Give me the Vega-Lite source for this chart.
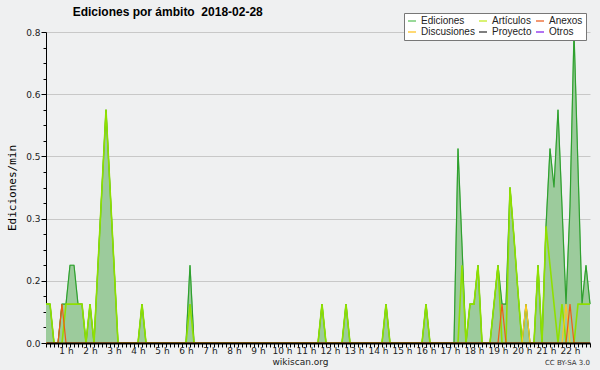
{
  "$schema": "https://vega.github.io/schema/vega-lite/v6.json",
  "width": 544,
  "height": 311,
  "autosize": {"type": "none"},
  "padding": {"left": 46, "top": 32, "right": 10, "bottom": 27},
  "background": "#eff0f1",
  "title": {"text": "Ediciones por ámbito\u00a0 2018-02-28", "anchor": "start", "dx": 66, "dy": 17, "offset": 11, "font": "Liberation Sans", "fontSize": 12, "fontWeight": "bold", "color": "#000"},
  "config": {"view": {"stroke": null}},
  "data": {
    "values": [
      {"min": 10, "Ediciones": 0.1, "Artículos": 0.1, "Anexos": 0, "Discusiones": 0},
      {"min": 20, "Ediciones": 0.1, "Artículos": 0.1, "Anexos": 0, "Discusiones": 0},
      {"min": 30, "Ediciones": 0, "Artículos": 0, "Anexos": 0, "Discusiones": 0},
      {"min": 40, "Ediciones": 0, "Artículos": 0, "Anexos": 0, "Discusiones": 0},
      {"min": 50, "Ediciones": 0.1, "Artículos": 0, "Anexos": 0.1, "Discusiones": 0},
      {"min": 60, "Ediciones": 0.1, "Artículos": 0.1, "Anexos": 0, "Discusiones": 0},
      {"min": 70, "Ediciones": 0.2, "Artículos": 0.1, "Anexos": 0, "Discusiones": 0},
      {"min": 80, "Ediciones": 0.2, "Artículos": 0.1, "Anexos": 0, "Discusiones": 0},
      {"min": 90, "Ediciones": 0.1, "Artículos": 0.1, "Anexos": 0, "Discusiones": 0},
      {"min": 100, "Ediciones": 0.1, "Artículos": 0.1, "Anexos": 0, "Discusiones": 0},
      {"min": 110, "Ediciones": 0, "Artículos": 0, "Anexos": 0, "Discusiones": 0},
      {"min": 120, "Ediciones": 0.1, "Artículos": 0.1, "Anexos": 0, "Discusiones": 0},
      {"min": 130, "Ediciones": 0, "Artículos": 0, "Anexos": 0, "Discusiones": 0},
      {"min": 140, "Ediciones": 0.2, "Artículos": 0.2, "Anexos": 0, "Discusiones": 0},
      {"min": 150, "Ediciones": 0.4, "Artículos": 0.4, "Anexos": 0, "Discusiones": 0},
      {"min": 160, "Ediciones": 0.6, "Artículos": 0.6, "Anexos": 0, "Discusiones": 0},
      {"min": 170, "Ediciones": 0.4, "Artículos": 0.4, "Anexos": 0, "Discusiones": 0},
      {"min": 180, "Ediciones": 0.2, "Artículos": 0.2, "Anexos": 0, "Discusiones": 0},
      {"min": 190, "Ediciones": 0, "Artículos": 0, "Anexos": 0, "Discusiones": 0},
      {"min": 200, "Ediciones": 0, "Artículos": 0, "Anexos": 0, "Discusiones": 0},
      {"min": 210, "Ediciones": 0, "Artículos": 0, "Anexos": 0, "Discusiones": 0},
      {"min": 220, "Ediciones": 0, "Artículos": 0, "Anexos": 0, "Discusiones": 0},
      {"min": 230, "Ediciones": 0, "Artículos": 0, "Anexos": 0, "Discusiones": 0},
      {"min": 240, "Ediciones": 0, "Artículos": 0, "Anexos": 0, "Discusiones": 0},
      {"min": 250, "Ediciones": 0.1, "Artículos": 0.1, "Anexos": 0, "Discusiones": 0},
      {"min": 260, "Ediciones": 0, "Artículos": 0, "Anexos": 0, "Discusiones": 0},
      {"min": 270, "Ediciones": 0, "Artículos": 0, "Anexos": 0, "Discusiones": 0},
      {"min": 280, "Ediciones": 0, "Artículos": 0, "Anexos": 0, "Discusiones": 0},
      {"min": 290, "Ediciones": 0, "Artículos": 0, "Anexos": 0, "Discusiones": 0},
      {"min": 300, "Ediciones": 0, "Artículos": 0, "Anexos": 0, "Discusiones": 0},
      {"min": 310, "Ediciones": 0, "Artículos": 0, "Anexos": 0, "Discusiones": 0},
      {"min": 320, "Ediciones": 0, "Artículos": 0, "Anexos": 0, "Discusiones": 0},
      {"min": 330, "Ediciones": 0, "Artículos": 0, "Anexos": 0, "Discusiones": 0},
      {"min": 340, "Ediciones": 0, "Artículos": 0, "Anexos": 0, "Discusiones": 0},
      {"min": 350, "Ediciones": 0, "Artículos": 0, "Anexos": 0, "Discusiones": 0},
      {"min": 360, "Ediciones": 0, "Artículos": 0, "Anexos": 0, "Discusiones": 0},
      {"min": 370, "Ediciones": 0.2, "Artículos": 0.1, "Anexos": 0, "Discusiones": 0},
      {"min": 380, "Ediciones": 0, "Artículos": 0, "Anexos": 0, "Discusiones": 0},
      {"min": 390, "Ediciones": 0, "Artículos": 0, "Anexos": 0, "Discusiones": 0},
      {"min": 400, "Ediciones": 0, "Artículos": 0, "Anexos": 0, "Discusiones": 0},
      {"min": 410, "Ediciones": 0, "Artículos": 0, "Anexos": 0, "Discusiones": 0},
      {"min": 420, "Ediciones": 0, "Artículos": 0, "Anexos": 0, "Discusiones": 0},
      {"min": 430, "Ediciones": 0, "Artículos": 0, "Anexos": 0, "Discusiones": 0},
      {"min": 440, "Ediciones": 0, "Artículos": 0, "Anexos": 0, "Discusiones": 0},
      {"min": 450, "Ediciones": 0, "Artículos": 0, "Anexos": 0, "Discusiones": 0},
      {"min": 460, "Ediciones": 0, "Artículos": 0, "Anexos": 0, "Discusiones": 0},
      {"min": 470, "Ediciones": 0, "Artículos": 0, "Anexos": 0, "Discusiones": 0},
      {"min": 480, "Ediciones": 0, "Artículos": 0, "Anexos": 0, "Discusiones": 0},
      {"min": 490, "Ediciones": 0, "Artículos": 0, "Anexos": 0, "Discusiones": 0},
      {"min": 500, "Ediciones": 0, "Artículos": 0, "Anexos": 0, "Discusiones": 0},
      {"min": 510, "Ediciones": 0, "Artículos": 0, "Anexos": 0, "Discusiones": 0},
      {"min": 520, "Ediciones": 0, "Artículos": 0, "Anexos": 0, "Discusiones": 0},
      {"min": 530, "Ediciones": 0, "Artículos": 0, "Anexos": 0, "Discusiones": 0},
      {"min": 540, "Ediciones": 0, "Artículos": 0, "Anexos": 0, "Discusiones": 0},
      {"min": 550, "Ediciones": 0, "Artículos": 0, "Anexos": 0, "Discusiones": 0},
      {"min": 560, "Ediciones": 0, "Artículos": 0, "Anexos": 0, "Discusiones": 0},
      {"min": 570, "Ediciones": 0, "Artículos": 0, "Anexos": 0, "Discusiones": 0},
      {"min": 580, "Ediciones": 0, "Artículos": 0, "Anexos": 0, "Discusiones": 0},
      {"min": 590, "Ediciones": 0, "Artículos": 0, "Anexos": 0, "Discusiones": 0},
      {"min": 600, "Ediciones": 0, "Artículos": 0, "Anexos": 0, "Discusiones": 0},
      {"min": 610, "Ediciones": 0, "Artículos": 0, "Anexos": 0, "Discusiones": 0},
      {"min": 620, "Ediciones": 0, "Artículos": 0, "Anexos": 0, "Discusiones": 0},
      {"min": 630, "Ediciones": 0, "Artículos": 0, "Anexos": 0, "Discusiones": 0},
      {"min": 640, "Ediciones": 0, "Artículos": 0, "Anexos": 0, "Discusiones": 0},
      {"min": 650, "Ediciones": 0, "Artículos": 0, "Anexos": 0, "Discusiones": 0},
      {"min": 660, "Ediciones": 0, "Artículos": 0, "Anexos": 0, "Discusiones": 0},
      {"min": 670, "Ediciones": 0, "Artículos": 0, "Anexos": 0, "Discusiones": 0},
      {"min": 680, "Ediciones": 0, "Artículos": 0, "Anexos": 0, "Discusiones": 0},
      {"min": 690, "Ediciones": 0, "Artículos": 0, "Anexos": 0, "Discusiones": 0},
      {"min": 700, "Ediciones": 0.1, "Artículos": 0.1, "Anexos": 0, "Discusiones": 0},
      {"min": 710, "Ediciones": 0, "Artículos": 0, "Anexos": 0, "Discusiones": 0},
      {"min": 720, "Ediciones": 0, "Artículos": 0, "Anexos": 0, "Discusiones": 0},
      {"min": 730, "Ediciones": 0, "Artículos": 0, "Anexos": 0, "Discusiones": 0},
      {"min": 740, "Ediciones": 0, "Artículos": 0, "Anexos": 0, "Discusiones": 0},
      {"min": 750, "Ediciones": 0, "Artículos": 0, "Anexos": 0, "Discusiones": 0},
      {"min": 760, "Ediciones": 0.1, "Artículos": 0.1, "Anexos": 0, "Discusiones": 0},
      {"min": 770, "Ediciones": 0, "Artículos": 0, "Anexos": 0, "Discusiones": 0},
      {"min": 780, "Ediciones": 0, "Artículos": 0, "Anexos": 0, "Discusiones": 0},
      {"min": 790, "Ediciones": 0, "Artículos": 0, "Anexos": 0, "Discusiones": 0},
      {"min": 800, "Ediciones": 0, "Artículos": 0, "Anexos": 0, "Discusiones": 0},
      {"min": 810, "Ediciones": 0, "Artículos": 0, "Anexos": 0, "Discusiones": 0},
      {"min": 820, "Ediciones": 0, "Artículos": 0, "Anexos": 0, "Discusiones": 0},
      {"min": 830, "Ediciones": 0, "Artículos": 0, "Anexos": 0, "Discusiones": 0},
      {"min": 840, "Ediciones": 0, "Artículos": 0, "Anexos": 0, "Discusiones": 0},
      {"min": 850, "Ediciones": 0, "Artículos": 0, "Anexos": 0, "Discusiones": 0},
      {"min": 860, "Ediciones": 0.1, "Artículos": 0.1, "Anexos": 0, "Discusiones": 0},
      {"min": 870, "Ediciones": 0, "Artículos": 0, "Anexos": 0, "Discusiones": 0},
      {"min": 880, "Ediciones": 0, "Artículos": 0, "Anexos": 0, "Discusiones": 0},
      {"min": 890, "Ediciones": 0, "Artículos": 0, "Anexos": 0, "Discusiones": 0},
      {"min": 900, "Ediciones": 0, "Artículos": 0, "Anexos": 0, "Discusiones": 0},
      {"min": 910, "Ediciones": 0, "Artículos": 0, "Anexos": 0, "Discusiones": 0},
      {"min": 920, "Ediciones": 0, "Artículos": 0, "Anexos": 0, "Discusiones": 0},
      {"min": 930, "Ediciones": 0, "Artículos": 0, "Anexos": 0, "Discusiones": 0},
      {"min": 940, "Ediciones": 0, "Artículos": 0, "Anexos": 0, "Discusiones": 0},
      {"min": 950, "Ediciones": 0, "Artículos": 0, "Anexos": 0, "Discusiones": 0},
      {"min": 960, "Ediciones": 0.1, "Artículos": 0.1, "Anexos": 0, "Discusiones": 0},
      {"min": 970, "Ediciones": 0, "Artículos": 0, "Anexos": 0, "Discusiones": 0},
      {"min": 980, "Ediciones": 0, "Artículos": 0, "Anexos": 0, "Discusiones": 0},
      {"min": 990, "Ediciones": 0, "Artículos": 0, "Anexos": 0, "Discusiones": 0},
      {"min": 1000, "Ediciones": 0, "Artículos": 0, "Anexos": 0, "Discusiones": 0},
      {"min": 1010, "Ediciones": 0, "Artículos": 0, "Anexos": 0, "Discusiones": 0},
      {"min": 1020, "Ediciones": 0, "Artículos": 0, "Anexos": 0, "Discusiones": 0},
      {"min": 1030, "Ediciones": 0, "Artículos": 0, "Anexos": 0, "Discusiones": 0},
      {"min": 1040, "Ediciones": 0.5, "Artículos": 0, "Anexos": 0, "Discusiones": 0},
      {"min": 1050, "Ediciones": 0.25, "Artículos": 0.2, "Anexos": 0, "Discusiones": 0},
      {"min": 1060, "Ediciones": 0, "Artículos": 0, "Anexos": 0, "Discusiones": 0},
      {"min": 1070, "Ediciones": 0.1, "Artículos": 0.1, "Anexos": 0, "Discusiones": 0},
      {"min": 1080, "Ediciones": 0.1, "Artículos": 0.1, "Anexos": 0, "Discusiones": 0},
      {"min": 1090, "Ediciones": 0.2, "Artículos": 0.2, "Anexos": 0, "Discusiones": 0},
      {"min": 1100, "Ediciones": 0, "Artículos": 0, "Anexos": 0, "Discusiones": 0},
      {"min": 1110, "Ediciones": 0, "Artículos": 0, "Anexos": 0, "Discusiones": 0},
      {"min": 1120, "Ediciones": 0, "Artículos": 0, "Anexos": 0, "Discusiones": 0},
      {"min": 1130, "Ediciones": 0.1, "Artículos": 0.1, "Anexos": 0, "Discusiones": 0},
      {"min": 1140, "Ediciones": 0.2, "Artículos": 0.2, "Anexos": 0, "Discusiones": 0},
      {"min": 1150, "Ediciones": 0.1, "Artículos": 0, "Anexos": 0.1, "Discusiones": 0},
      {"min": 1160, "Ediciones": 0.1, "Artículos": 0, "Anexos": 0, "Discusiones": 0},
      {"min": 1170, "Ediciones": 0.4, "Artículos": 0.4, "Anexos": 0, "Discusiones": 0},
      {"min": 1180, "Ediciones": 0.27, "Artículos": 0.27, "Anexos": 0, "Discusiones": 0},
      {"min": 1190, "Ediciones": 0.13, "Artículos": 0.13, "Anexos": 0, "Discusiones": 0},
      {"min": 1200, "Ediciones": 0, "Artículos": 0, "Anexos": 0, "Discusiones": 0},
      {"min": 1210, "Ediciones": 0.1, "Artículos": 0, "Anexos": 0, "Discusiones": 0.1},
      {"min": 1220, "Ediciones": 0, "Artículos": 0, "Anexos": 0, "Discusiones": 0},
      {"min": 1230, "Ediciones": 0, "Artículos": 0, "Anexos": 0, "Discusiones": 0},
      {"min": 1240, "Ediciones": 0.2, "Artículos": 0.2, "Anexos": 0, "Discusiones": 0},
      {"min": 1250, "Ediciones": 0, "Artículos": 0, "Anexos": 0, "Discusiones": 0},
      {"min": 1260, "Ediciones": 0.3, "Artículos": 0.3, "Anexos": 0, "Discusiones": 0},
      {"min": 1270, "Ediciones": 0.5, "Artículos": 0.2, "Anexos": 0, "Discusiones": 0},
      {"min": 1280, "Ediciones": 0.4, "Artículos": 0.1, "Anexos": 0, "Discusiones": 0},
      {"min": 1290, "Ediciones": 0.6, "Artículos": 0, "Anexos": 0, "Discusiones": 0},
      {"min": 1300, "Ediciones": 0.35, "Artículos": 0.1, "Anexos": 0, "Discusiones": 0},
      {"min": 1310, "Ediciones": 0.1, "Artículos": 0, "Anexos": 0, "Discusiones": 0.1},
      {"min": 1320, "Ediciones": 0.35, "Artículos": 0, "Anexos": 0.1, "Discusiones": 0},
      {"min": 1330, "Ediciones": 0.8, "Artículos": 0, "Anexos": 0, "Discusiones": 0},
      {"min": 1340, "Ediciones": 0.45, "Artículos": 0.1, "Anexos": 0, "Discusiones": 0},
      {"min": 1350, "Ediciones": 0.1, "Artículos": 0.1, "Anexos": 0, "Discusiones": 0},
      {"min": 1360, "Ediciones": 0.2, "Artículos": 0.1, "Anexos": 0, "Discusiones": 0},
      {"min": 1370, "Ediciones": 0.1, "Artículos": 0.1, "Anexos": 0, "Discusiones": 0}
    ]
  },
  "transform": [{"fold": ["Ediciones", "Artículos", "Anexos", "Discusiones"], "as": ["serie", "valor"]}],
  "encoding": {
    "x": {
      "field": "min",
      "type": "quantitative",
      "scale": {"domain": [10, 1370], "nice": false, "zero": false},
      "axis": {
        "title": "wikiscan.org",
        "tickCount": 137,
        "labelExpr": "datum.value % 60 == 0 ? (datum.value / 60) + ' h' : ''",
        "grid": false,
        "domainColor": "#000",
        "domainWidth": 2,
        "tickColor": "#000",
        "tickSize": 4,
        "labelFont": "DejaVu Sans",
        "labelFontSize": 9,
        "labelColor": "#222",
        "labelPadding": -1,
        "labelOverlap": false,
        "labelFlush": false,
        "titleFont": "DejaVu Sans",
        "titleFontSize": 9,
        "titleFontWeight": "normal",
        "titleColor": "#222",
        "titleX": 254,
        "titleY": 14,
        "titleAlign": "center",
        "titleBaseline": "top",
        "zindex": 1
      }
    },
    "y": {
      "field": "valor",
      "type": "quantitative",
      "scale": {"domain": [0, 0.8], "nice": false},
      "axis": {
        "title": "Ediciones/min",
        "values": [0, 0.04, 0.08, 0.12, 0.16, 0.2, 0.24, 0.28, 0.32, 0.36, 0.4, 0.44, 0.48, 0.52, 0.56, 0.6, 0.64, 0.68, 0.72, 0.76, 0.8],
        "labelExpr": "round(datum.value * 100) % 16 == 0 ? format(datum.value, '.1f') : ''",
        "gridColor": "#c8c8c8",
        "gridOpacity": {"condition": {"test": "round(datum.value * 100) % 16 == 0", "value": 1}, "value": 0},
        "tickSize": {"condition": {"test": "round(datum.value * 100) % 16 == 0", "value": 5}, "value": 3},
        "domainColor": "#000",
        "tickColor": "#000",
        "labelFont": "DejaVu Sans",
        "labelFontSize": 9,
        "labelColor": "#222",
        "labelPadding": 1,
        "labelOverlap": false,
        "labelFlush": false,
        "titleFont": "DejaVu Sans Mono",
        "titleFontSize": 11,
        "titleFontWeight": "normal",
        "titleColor": "#000",
        "titlePadding": 8
      }
    }
  },
  "layer": [
    {
      "mark": {"type": "line", "strokeWidth": 1},
      "encoding": {
        "color": {
          "field": "serie",
          "type": "nominal",
          "scale": {"domain": ["Ediciones", "Artículos", "Anexos", "Discusiones", "Proyecto", "Otros"], "range": ["#77cc77", "#ccee44", "#ee7744", "#ffcc44", "#555555", "#9944ee"]},
          "legend": {
            "title": null,
            "orient": "none",
            "legendX": 358,
            "legendY": -19,
            "columns": 3,
            "direction": "horizontal",
            "gridAlign": "each",
            "symbolType": "stroke",
            "symbolSize": 64,
            "symbolStrokeWidth": 1.5,
            "labelFont": "Liberation Sans",
            "labelFontSize": 10,
            "labelColor": "#222",
            "fillColor": "#ffffff",
            "strokeColor": "#777777",
            "padding": 3,
            "rowPadding": 1,
            "columnPadding": 1,
            "labelOffset": 4
          }
        }
      }
    },
    {
      "transform": [{"filter": "datum.serie == 'Ediciones'"}],
      "mark": {"type": "area", "color": "#9ccb9c", "opacity": 1}
    },
    {
      "transform": [{"filter": "datum.serie == 'Ediciones'"}],
      "mark": {"type": "line", "color": "#2fa02f", "strokeWidth": 1.2}
    },
    {
      "transform": [{"filter": "datum.serie == 'Artículos'"}],
      "mark": {"type": "line", "color": "#8fe000", "strokeWidth": 1.6}
    },
    {
      "transform": [{"filter": "datum.serie == 'Discusiones'"}],
      "mark": {"type": "line", "color": "#ffc81e", "strokeWidth": 1.2}
    },
    {
      "transform": [{"filter": "datum.serie == 'Anexos'"}],
      "mark": {"type": "line", "color": "#f05a14", "strokeWidth": 1.2}
    },
    {
      "data": {"values": [{"min": 1370, "valor": 0, "label": "CC BY-SA 3.0"}]},
      "mark": {"type": "text", "align": "right", "baseline": "top", "dy": 16, "fontSize": 7, "font": "DejaVu Sans", "color": "#333"},
      "encoding": {"text": {"field": "label"}}
    }
  ]
}
